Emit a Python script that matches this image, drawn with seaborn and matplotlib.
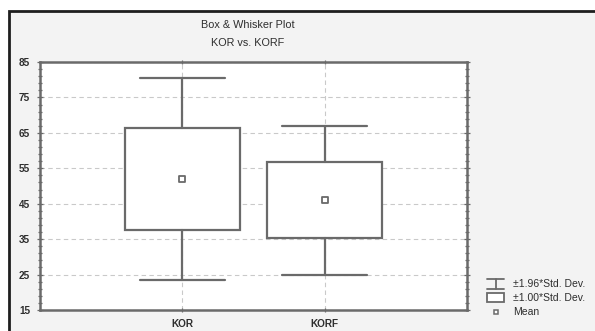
import matplotlib
matplotlib.use("Agg")
import numpy as np
import pandas as pd
import seaborn as sns
import matplotlib.pyplot as plt
from matplotlib.lines import Line2D
from matplotlib.patches import Rectangle
from matplotlib.ticker import FixedLocator

# Summary statistics per variable
variables = ["KOR", "KORF"]
means = [52.0, 45.95]
std_devs = [14.5, 10.75]
y_ticks = [15, 25, 35, 45, 55, 65, 75, 85]
legend_labels = ["±1.96*Std. Dev.", "±1.00*Std. Dev.", "Mean"]
title_lines = ["Box & Whisker Plot", "KOR vs. KORF"]

sns.set_theme(style="white")
plt.rcParams["font.family"] = ["Liberation Sans", "DejaVu Sans"]

LINE = "#6a6a6a"
TEXT = "#2e2e2e"
BG = "#f3f3f3"

W, H = 595, 331
fig = plt.figure(figsize=(W / 100, H / 100), dpi=100, facecolor="white")


def fx(px):
    return px / W


def fy(py):
    return 1 - py / H


# panel background and frame
fig.add_artist(Rectangle((fx(9), -0.1), 1.2, fy(11) + 0.1, transform=fig.transFigure,
                         facecolor=BG, edgecolor="#1e1e1e", linewidth=2.0, zorder=-10))

ax = fig.add_axes([fx(40), fy(310), fx(467) - fx(40), fy(62) - fy(310)])
ax.set_facecolor("white")

df = pd.DataFrame({"variable": variables, "mean": means, "sd": std_devs})

# box = mean ± 1 SD, whiskers = mean ± 1.96 SD
stats = []
for _, r in df.iterrows():
    stats.append({
        "label": r["variable"],
        "med": r["mean"],
        "q1": r["mean"] - r["sd"],
        "q3": r["mean"] + r["sd"],
        "whislo": r["mean"] - 1.96 * r["sd"],
        "whishi": r["mean"] + 1.96 * r["sd"],
        "fliers": [],
    })

line_kw = dict(color=LINE, linewidth=1.6)
ax.bxp(stats, positions=[0, 1], widths=0.81, capwidths=0.6, patch_artist=True,
       showfliers=False, manage_ticks=False,
       boxprops=dict(facecolor="white", edgecolor=LINE, linewidth=1.6),
       whiskerprops=line_kw, capprops=line_kw,
       medianprops=dict(linewidth=0), zorder=3)

sns.scatterplot(data=df, x="variable", y="mean", ax=ax, marker="s", s=16,
                color="white", edgecolor=LINE, linewidth=1.3, zorder=4)

ax.set_xlim(-1, 2)
ax.set_ylim(15, 85)
ax.set_xlabel("")
ax.set_ylabel("")
ax.set_xticks([0, 1])
ax.set_xticklabels(variables)
ax.set_yticks(y_ticks)
ax.yaxis.set_minor_locator(FixedLocator(np.arange(15, 86, 2)))

ax.grid(True, which="major", linestyle=(0, (4, 3)), color="#c9c9c9", linewidth=0.8, zorder=0)
ax.set_axisbelow(True)

for s in ax.spines.values():
    s.set_visible(True)
    s.set_color(LINE)
    s.set_linewidth(1.8)

ax.tick_params(axis="y", which="both", left=True, right=True, direction="inout",
               color=LINE, width=0.9, labelsize=7.2, labelcolor=TEXT, pad=5)
ax.tick_params(axis="y", which="major", length=4)
ax.tick_params(axis="y", which="minor", length=3)
ax.tick_params(axis="x", which="major", bottom=True, top=True, direction="inout",
               length=3, color=LINE, width=0.9, labelsize=7.2, labelcolor=TEXT, pad=5)
for lab in ax.get_xticklabels() + ax.get_yticklabels():
    lab.set_fontweight("bold")

# title
fig.text(fx(248), fy(25), title_lines[0], ha="center", va="center", fontsize=7.8, color=TEXT)
fig.text(fx(248), fy(43), title_lines[1], ha="center", va="center", fontsize=7.8, color=TEXT)

# legend key
tf = fig.transFigure
x0, x1 = 487, 504
xc = (x0 + x1) / 2
for xs, ys in [((x0, x1), (279, 279)), ((x0, x1), (289, 289)), ((xc, xc), (279, 289))]:
    fig.add_artist(Line2D([fx(v) for v in xs], [fy(v) for v in ys], transform=tf,
                          color=LINE, linewidth=1.3))
fig.add_artist(Rectangle((fx(x0), fy(302)), fx(x1) - fx(x0), fy(293) - fy(302), transform=tf,
                         facecolor="white", edgecolor=LINE, linewidth=1.3))
fig.add_artist(Line2D([fx(xc)], [fy(312)], transform=tf, marker="s", markersize=3.5,
                      markerfacecolor="white", markeredgecolor=LINE, markeredgewidth=1.1,
                      linestyle="none"))
for lab, yy in zip(legend_labels, [284, 298, 312]):
    fig.text(fx(513), fy(yy), lab, ha="left", va="center", fontsize=7.5, color=TEXT)

fig.savefig("out.png", dpi=100, facecolor=fig.get_facecolor())
